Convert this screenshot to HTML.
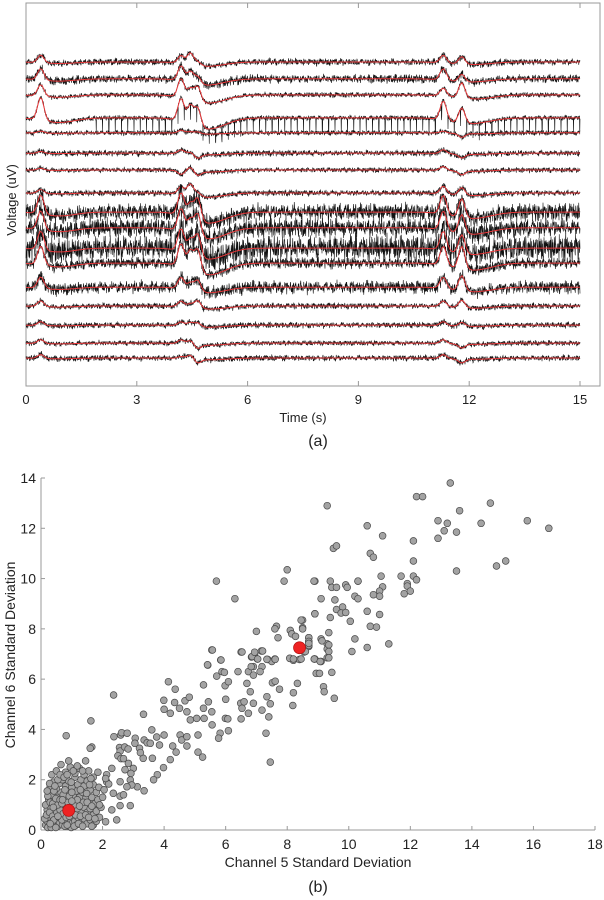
<!DOCTYPE html>
<html><head><meta charset="utf-8"><style>
html,body{margin:0;padding:0;background:#fff;}
svg{display:block;font-family:"Liberation Sans",Arial,sans-serif;}
</style></head><body>
<svg id="fig" width="604" height="900" viewBox="0 0 604 900">
<g id="top">
 <rect x="26" y="3" width="574" height="383" fill="none" stroke="#999" stroke-width="1"/>
 <g id="topTicks"></g>
 <g id="traces"></g>
 <text x="303" y="422" text-anchor="middle" font-size="13" fill="#222">Time (s)</text>
 <text transform="translate(16,200) rotate(-90)" text-anchor="middle" font-size="13" fill="#222">Voltage (uV)</text>
 <text x="318" y="446" text-anchor="middle" font-size="16" fill="#222">(a)</text>
</g>
<g id="bot">
 <line x1="41" y1="830" x2="595" y2="830" stroke="#999"/>
 <line x1="41" y1="478" x2="41" y2="830" stroke="#999"/>
 <g id="botTicks"></g>
 <g id="pts"></g>
 <text x="318" y="867" text-anchor="middle" font-size="14" fill="#222">Channel 5 Standard Deviation</text>
 <text transform="translate(15,655) rotate(-90)" text-anchor="middle" font-size="14" fill="#222">Channel 6 Standard Deviation</text>
 <text x="318" y="892" text-anchor="middle" font-size="16" fill="#222">(b)</text>
</g>
</svg>
<script>
var NS="http://www.w3.org/2000/svg";
// ---- top chart data ----
var timeTicks=[0,3,6,9,12,15];
var traceOffsets=[84.6,80.2,76.0,70.0,66.1,60.8,56.4,50.4,45.4,41.3,36.0,32.1,25.8,20.9,15.9,11.2,7.3];
var traceNoise=[0.8,1.0,0.6,0.6,0.6,0.7,0.6,0.7,2.0,2.2,3.0,1.3,1.5,0.7,0.7,0.6,0.7];
var eventTimes=[0.4,4.2,4.45,4.65,11.3,11.8];
var eventAmps=[[2,2,3,1,2,2],[3,4,3,2,3,2],[3,5,3,4,2,4],[6,6,5,5,5,4],[0.5,0.8,0.5,0.5,0.5,-1],[0.5,1,0.5,-1,1,-1],[0.5,-1,1,-1,1,-1],[1,2,3,1,2,2],[5,6,4,6,5,5],[5,6,4,6,5,5],[5,6,4,6,5,5],[5,6,5,6,5,6],[3,3,2,3,3,4],[1.5,1.5,1,2,1.5,2],[1,1,1,1,1,1],[1,1,1,-1,1,-1],[1,0.5,1,-1,1,-1]];
var noisePattern=[0.3,-0.8,0.9,-0.2,-1,0.6,0.1,-0.5,1,-0.7,0.4,-0.1,0.8,-0.9,0.2,0.5,-0.4,0.7,-0.6,0.0,0.9,-0.3,-0.8,0.6,0.2,-1,0.4,0.8,-0.5,0.1,-0.2,0.7,-0.9,0.3,0.5,-0.6,1,-0.4,0.0,0.6,-0.7,0.2,0.9,-0.1,-0.8,0.4,0.6,-0.3,0.1,-0.9,0.8,-0.5,0.3];
var spikeTrace=3, spikeStart=1.9, spikeInterval=0.17, spikeDepth=4;
function tx(t){return 26+t*(554/15);}
function vy(v){return 386-v*3.83;}
var tt=document.getElementById('topTicks');
timeTicks.forEach(function(t){
 var l=document.createElementNS(NS,'path');
 l.setAttribute('d','M'+tx(t)+',386v-5M'+tx(t)+',3v5');
 l.setAttribute('stroke','#999');
 
 
 tt.appendChild(l);
 var s=document.createElementNS(NS,'text');
 s.setAttribute('x',tx(t));s.setAttribute('y',404);s.setAttribute('text-anchor','middle');s.setAttribute('font-size','13');s.setAttribute('fill','#222');
 s.textContent=t;
 
 
 tt.appendChild(s);
});
function shape(ti,t){
 var v=0;
 for(var j=0;j<eventTimes.length;j++){
  var a=eventAmps[ti][j],d=t-eventTimes[j];
  v+=a*Math.exp(-(d/0.12)*(d/0.12));
  var d2=t-eventTimes[j]-0.5;
  v-=Math.abs(a)*0.2*Math.exp(-(d2/0.6)*(d2/0.6));
 }
 return v;
}
var tg=document.getElementById('traces');
var NP=noisePattern.length;
for(var ti=0;ti<traceOffsets.length;ti++){
 var db='',dr='',k=0;
 for(var px=26;px<=580;px+=0.25,k++){
  var t=(px-26)/(554/15);
  var base=traceOffsets[ti]+shape(ti,t);
  var nz=(noisePattern[(k*7+ti*11)%NP]+0.8*noisePattern[(k*3+ti*5)%41]+0.5*noisePattern[(k*11+ti)%29])/1.6;
  var n=nz*traceNoise[ti];
  if(ti===spikeTrace&&t>spikeStart&&((t-spikeStart)%spikeInterval)<0.008)n-=spikeDepth;
  db+=(k?'L':'M')+px.toFixed(2)+','+vy(base+n).toFixed(1);
  if(k%8===0)dr+=(k?'L':'M')+px.toFixed(1)+','+vy(base).toFixed(1);
 }
 var p=document.createElementNS(NS,'path');
 p.setAttribute('d',db);p.setAttribute('fill','none');p.setAttribute('stroke','#111');p.setAttribute('stroke-width','0.6');
 
 
 tg.appendChild(p);
 var r=document.createElementNS(NS,'path');
 r.setAttribute('d',dr);r.setAttribute('fill','none');r.setAttribute('stroke','#e8383a');r.setAttribute('stroke-width','1');
 
 
 tg.appendChild(r);
}
// ---- scatter data ----
var xTicks=[0,2,4,6,8,10,12,14,16,18];
var yTicks=[0,2,4,6,8,10,12,14];
var ch5=[9.3,13.3,12.2,12.4,14.6,13.6,12.9,13.2,13.1,13.5,12.9,14.3,15.8,16.5,10.6,11.1,12.1,9.5,9.6,10.7,10.8,12.1,13.5,14.8,15.1,8.9,9.4,9.45,9.6,9.9,9.95,10.3,10.3,11.05,11.7,12.1,12.2,11.9,11.9,11.8,12.0,11.1,11.0,11.0,10.8,9.1,9.55,10.2,10.3,9.6,9.8,9.75,9.9,8.9,9.4,10.05,10.6,11.0,10.7,10.9,8.5,8.5,9.35,8.7,8.7,8.7,9.1,9.3,9.3,9.3,10.2,10.6,11.3,10.1,8.9,9.1,8.55,
5.7,8.0,7.9,8.87,6.3,8.9,8.45,8.5,7.65,7.6,7.0,8.1,8.15,8.27,7.7,8.7,8.7,8.7,5.55,6.5,7.16,6.94,6.84,7.03,5.84,5.42,7.37,7.5,7.6,8.1,8.2,8.4,8.55,8.88,6.9,7.18,
4.14,4.36,2.36,1.62,0.82,1.65,3.33,3.99,4.0,4.2,4.34,4.5,4.68,4.82,4.74,4.85,5.06,5.28,5.3,5.44,5.55,5.28,5.41,5.57,5.85,5.71,5.88,5.96,5.98,6.09,6.0,5.99,6.07,5.56,5.82,5.77,6.09,6.4,6.53,6.49,6.53,6.5,6.6,6.69,6.74,6.83,6.86,6.94,7.04,6.9,6.8,6.9,6.74,7.12,7.2,7.34,7.61,7.52,7.61,7.75,7.34,7.45,7.18,7.4,7.31,7.45,8.08,8.2,8.45,8.59,8.33,8.2,8.18,8.88,9.07,8.94,9.05,9.18,9.2,9.45,9.53,9.35,9.35,9.35,9.13,8.7,
2.37,2.59,2.62,2.55,2.57,2.5,2.6,2.72,2.83,3.06,3.2,3.32,3.35,3.45,3.6,3.55,3.62,3.76,3.85,3.98,3.78,3.66,4.0,4.2,4.28,4.39,4.52,4.57,4.74,4.74,5.1,5.25,5.1,2.8,3.05,3.23,3.0,2.92,2.73,2.68,2.84,3.35,3.13,2.9,2.95,2.57,2.79,2.3,2.13,2.13,2.2,2.35,2.57,2.68,2.9,2.57,2.46,2.3,2.1,1.86,
0.15,0.2,0.25,0.3,0.35,0.4,0.45,0.5,0.55,0.6,0.65,0.7,0.75,0.8,0.85,0.9,0.95,1.0,1.05,1.1,1.15,1.2,1.3,1.4,1.5,1.6,1.7,1.8,
0.2,0.3,0.4,0.5,0.6,0.7,0.8,0.9,1.0,1.1,1.2,1.3,1.4,1.5,1.6,1.7,1.8,1.9,
0.25,0.35,0.45,0.55,0.65,0.75,0.85,0.95,1.05,1.15,1.25,1.35,1.45,1.55,1.65,1.75,1.85,1.95,
0.3,0.4,0.5,0.6,0.7,0.8,0.9,1.0,1.1,1.2,1.3,1.4,1.5,1.6,1.7,1.8,
0.35,0.5,0.65,0.8,0.95,1.1,1.25,1.4,1.55,1.7,0.9,1.45,1.6,
0.12,0.18,0.22,0.28,0.33,0.38,0.42,0.48,0.52,0.58,0.62,0.68,0.72,0.78,0.82,0.88,0.92,0.98,1.02,1.08,1.12,1.18,1.22,1.28,1.35,1.45,1.55,1.65,1.75,0.15,0.22,0.3,0.38,0.42,0.48,0.55,0.62,0.68,0.72,0.78,0.88,0.92,1.0,1.08,1.18,1.28,1.38,1.48,1.58,0.2,0.28,0.45,0.55,0.62,0.75,0.85,0.98,1.05,1.18,1.35,1.62,1.88,2.0,0.3,0.4,0.55,0.7,0.85,1.0,1.25,1.5,1.65,1.9,2.05,1.85,2.1];
var ch6=[12.9,13.8,13.26,13.26,13.0,12.7,12.3,12.2,11.9,11.85,11.6,12.2,12.3,12.0,12.1,11.7,11.5,11.2,11.3,11.0,10.85,10.7,10.3,10.5,10.7,9.9,9.9,9.65,9.65,9.75,9.65,9.9,9.9,10.1,10.1,10.1,9.95,9.8,9.7,9.4,9.5,9.67,9.5,9.3,9.36,9.2,9.15,9.3,9.2,8.77,8.87,8.63,8.65,8.6,8.45,8.3,8.7,8.57,8.1,8.07,8.35,8.05,7.85,7.65,7.5,7.3,7.6,7.4,7.2,6.85,7.6,7.26,7.4,7.1,6.8,6.7,7.1,
9.9,10.35,9.9,9.9,9.2,8.6,8.35,8.0,8.1,8.0,7.9,7.94,7.8,7.7,7.65,7.65,7.5,7.34,7.16,7.08,7.12,7.0,6.88,6.8,6.76,6.56,6.78,6.7,6.8,6.82,6.75,6.78,7.08,6.8,6.5,6.5,
5.9,5.6,5.37,4.34,3.75,3.3,4.6,5.16,4.8,4.64,5.07,4.84,5.14,5.28,4.7,4.38,4.44,4.84,4.44,5.1,4.7,5.77,6.57,7.16,6.76,6.12,6.3,6.27,5.74,5.9,5.2,4.44,4.42,4.18,3.85,3.65,3.95,6.3,7.08,5.04,4.84,4.42,5.1,5.83,6.3,6.5,6.9,7.07,6.8,6.16,5.5,5.04,4.64,6.3,7.12,6.79,6.79,5.86,5.92,5.6,5.3,5.02,4.77,4.5,3.85,2.7,6.83,6.8,6.8,7.1,5.83,5.46,4.95,6.8,6.7,6.23,6.23,5.7,5.5,6.27,5.24,7.36,7.1,6.85,7.52,7.42,
3.71,3.78,3.87,3.28,3.14,2.95,2.84,3.3,3.22,3.65,3.25,2.85,3.58,3.47,3.98,3.45,2.85,3.7,3.38,2.48,2.2,2.0,3.78,2.8,3.34,3.1,3.78,3.58,3.71,3.34,3.1,2.9,3.78,3.85,3.45,3.08,2.45,2.25,2.4,2.84,2.65,1.56,1.72,1.99,1.79,1.92,1.72,2.45,2.2,1.92,1.83,1.46,1.35,1.4,0.97,0.97,0.4,0.8,0.33,0.93,
0.2,0.35,0.15,0.5,0.3,0.2,0.6,0.4,0.15,0.3,0.55,0.2,0.45,0.3,0.6,0.15,0.4,0.25,0.55,0.35,0.2,0.5,0.3,0.45,0.25,0.4,0.2,0.35,
0.8,0.95,0.75,0.9,1.05,0.8,1.0,0.7,0.95,0.8,1.05,0.75,0.9,0.7,0.85,0.6,0.75,0.5,
1.2,1.4,1.15,1.3,1.5,1.25,1.45,1.2,1.35,1.55,1.3,1.5,1.25,1.1,1.3,1.05,1.2,0.9,
1.7,1.9,1.65,1.85,2.0,1.75,1.95,1.7,2.1,1.8,2.0,1.75,1.95,1.6,1.8,1.5,
2.2,2.35,2.6,2.3,2.5,2.25,2.45,2.2,2.35,2.1,2.75,2.75,3.25,
0.45,0.6,0.1,0.7,0.1,0.55,0.4,0.1,0.7,0.5,0.8,0.4,0.65,0.15,0.5,0.85,0.55,0.1,0.7,0.15,0.6,0.85,0.25,0.55,0.15,0.6,0.5,0.15,0.45,1.0,1.35,1.1,1.05,1.55,1.25,1.0,1.2,1.05,1.4,1.6,1.1,1.35,1.5,1.0,1.2,1.6,1.1,1.45,1.8,1.55,1.85,1.75,2.0,2.2,2.1,2.2,1.9,2.35,2.55,2.35,2.05,1.7,1.3,0.25,0.9,0.55,1.2,0.2,1.15,0.95,1.1,0.95,1.0,1.6,2.3,2.05];
var highlightX=[0.9,8.4];
var highlightY=[0.78,7.25];
function sx(v){return 41+v*(554/18);}
function sy(v){return 830-v*(352/14);}
var bt=document.getElementById('botTicks');
xTicks.forEach(function(v){
 var l=document.createElementNS(NS,'line');
 l.setAttribute('x1',sx(v));l.setAttribute('x2',sx(v));l.setAttribute('y1',830);l.setAttribute('y2',826);l.setAttribute('stroke','#999');
 
 
 bt.appendChild(l);
 var s=document.createElementNS(NS,'text');
 s.setAttribute('x',sx(v));s.setAttribute('y',849);s.setAttribute('text-anchor','middle');s.setAttribute('font-size','14');s.setAttribute('fill','#222');
 s.textContent=v;
 
 
 bt.appendChild(s);
});
yTicks.forEach(function(v){
 var l=document.createElementNS(NS,'line');
 l.setAttribute('x1',41);l.setAttribute('x2',45);l.setAttribute('y1',sy(v));l.setAttribute('y2',sy(v));l.setAttribute('stroke','#999');
 
 
 bt.appendChild(l);
 var s=document.createElementNS(NS,'text');
 s.setAttribute('x',36);s.setAttribute('y',sy(v)+5);s.setAttribute('text-anchor','end');s.setAttribute('font-size','14');s.setAttribute('fill','#222');
 s.textContent=v;
 
 
 bt.appendChild(s);
});
var pg=document.getElementById('pts');
var n=Math.min(ch5.length,ch6.length);
for(var i=0;i<n;i++){
 var c=document.createElementNS(NS,'circle');
 c.setAttribute('cx',sx(ch5[i]).toFixed(1));c.setAttribute('cy',sy(ch6[i]).toFixed(1));c.setAttribute('r','3.4');
 c.setAttribute('fill','#a3a3a3');c.setAttribute('stroke','#4a4a4a');c.setAttribute('stroke-width','0.7');
 
 
 pg.appendChild(c);
}
for(var j=0;j<highlightX.length;j++){
 var h=document.createElementNS(NS,'circle');
 h.setAttribute('cx',sx(highlightX[j]));h.setAttribute('cy',sy(highlightY[j]));h.setAttribute('r','6');
 h.setAttribute('fill','#ee2222');h.setAttribute('stroke','#b01010');h.setAttribute('stroke-width','0.7');
 
 
 pg.appendChild(h);
}
</script>
</body></html>
